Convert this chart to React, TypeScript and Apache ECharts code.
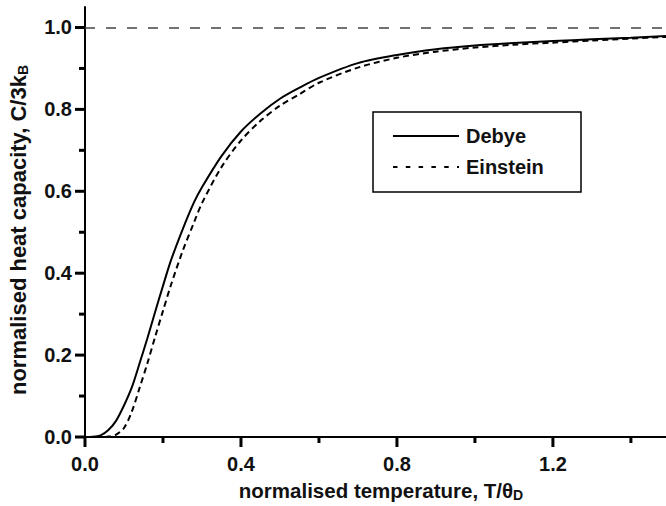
import React, { useEffect, useRef } from "react";
import * as echarts from "echarts";

// reduced temperature T/θD
const tValues = [0, 0.02, 0.04, 0.06, 0.08, 0.1, 0.12, 0.14, 0.16, 0.18, 0.2, 0.22, 0.25, 0.28, 0.3, 0.35, 0.4, 0.45, 0.5, 0.55, 0.6, 0.7, 0.8, 0.9, 1.0, 1.1, 1.2, 1.3, 1.4, 1.49];
// normalised heat capacity C/3kB
const debyeValues = [0, 0.0005, 0.004, 0.017, 0.04, 0.077, 0.121, 0.18, 0.241, 0.306, 0.369, 0.43, 0.506, 0.574, 0.61, 0.686, 0.746, 0.79, 0.826, 0.853, 0.877, 0.913, 0.933, 0.947, 0.956, 0.962, 0.967, 0.971, 0.975, 0.979];
const einsteinValues = [0, 0, 0, 0.001, 0.006, 0.022, 0.062, 0.12, 0.18, 0.245, 0.308, 0.37, 0.453, 0.525, 0.571, 0.659, 0.724, 0.772, 0.809, 0.837, 0.865, 0.902, 0.926, 0.941, 0.951, 0.958, 0.963, 0.968, 0.973, 0.977];

const xMajorTicks = [0, 0.4, 0.8, 1.2];
const xMinorTicks = [0.2, 0.6, 1.0, 1.4];
const yMajorTicks = [0, 0.2, 0.4, 0.6, 0.8, 1.0];
const yMinorTicks = [0.1, 0.3, 0.5, 0.7, 0.9];
const limitValue = 1.0;

const seriesNames = ["Debye", "Einstein"];

const FONT = "'Liberation Sans', Arial, Helvetica, sans-serif";

export default function App() {
  const ref = useRef<HTMLDivElement>(null);
  useEffect(() => {
    if (!ref.current) return;
    const chart = echarts.init(ref.current, null, { renderer: "svg" });
    const axisLineStyle = { color: "#000", width: 2 };
    const labelStyle = { color: "#111", fontSize: 20, fontWeight: "bold" as const, fontFamily: FONT };
    const subStyle = { fontSize: 14, fontWeight: "bold", fontFamily: FONT, color: "#111", padding: [10, 0, 0, 0] };
    const option: any = {
      animation: false,
      backgroundColor: "#fff",
      grid: { left: 85, right: 0, top: 7, bottom: 69, containLabel: false, outerBoundsMode: "none" },
      xAxis: {
        type: "value", min: 0, max: 1.49, position: "bottom",
        axisLine: { show: true, onZero: false, lineStyle: axisLineStyle },
        axisTick: { show: false },
        axisLabel: { ...labelStyle, margin: 17, customValues: xMajorTicks, formatter: (v: number) => v.toFixed(1) },
        splitLine: { show: false },
        name: "{gap| }normalised temperature, T/θ{sub|D}",
        nameLocation: "middle",
        nameGap: 41,
        nameTextStyle: {
          color: "#111", fontSize: 20.5, fontWeight: "bold", fontFamily: FONT,
          rich: { sub: subStyle, gap: { width: 11 } },
        },
      },
      yAxis: {
        type: "value", min: 0, max: 1.05, position: "left",
        axisLine: { show: true, onZero: false, lineStyle: axisLineStyle },
        axisTick: { show: false },
        axisLabel: { ...labelStyle, margin: 13, customValues: yMajorTicks, formatter: (v: number) => v.toFixed(1) },
        splitLine: { show: false },
        name: "normalised heat capacity, C/3k{sub|B}{gap| }",
        nameLocation: "middle",
        nameGap: 55,
        nameRotate: 90,
        nameTextStyle: {
          color: "#111", fontSize: 22, fontWeight: "bold", fontFamily: FONT,
          rich: { sub: subStyle, gap: { width: 16 } },
        },
      },
      series: [
        {
          name: seriesNames[0], type: "line",
          data: tValues.map((t, i) => [t, debyeValues[i]]),
          showSymbol: false, symbol: "none", smooth: 0.3,
          lineStyle: { color: "#000", width: 2, type: "solid" },
          markLine: {
            silent: true, symbol: "none", label: { show: false },
            lineStyle: { color: "#444", width: 1.5, type: [10, 11] },
            data: [{ yAxis: limitValue }],
          },
        },
        {
          name: seriesNames[1], type: "line",
          data: tValues.map((t, i) => [t, einsteinValues[i]]),
          showSymbol: false, symbol: "none", smooth: 0.3,
          lineStyle: { color: "#000", width: 2, type: [6, 4] },
        },
      ],
    };
    chart.setOption(option);

    // outward axis ticks, placed through the chart's own scales
    const ticks: any[] = [];
    const addX = (vals: number[], len: number) =>
      vals.forEach((v) => {
        const p = chart.convertToPixel({ gridIndex: 0 }, [v, 0]) as number[];
        ticks.push({ type: "rect", z: 50, zlevel: 1, shape: { x: p[0] - 1.5, y: p[1], width: 3, height: len }, style: { fill: "#000" } });
      });
    const addY = (vals: number[], len: number) =>
      vals.forEach((v) => {
        const p = chart.convertToPixel({ gridIndex: 0 }, [0, v]) as number[];
        ticks.push({ type: "rect", z: 50, zlevel: 1, shape: { x: p[0] - len, y: p[1] - 1.5, width: len, height: 3 }, style: { fill: "#000" } });
      });
    addX(xMajorTicks, 10);
    addX(xMinorTicks, 6);
    addY(yMajorTicks, 10);
    addY(yMinorTicks, 6);

    const legend = [
      { type: "rect", shape: { x: 373, y: 112, width: 208, height: 80 }, style: { fill: "#fff", stroke: "#000", lineWidth: 1.5 }, z: 10 },
      { type: "line", shape: { x1: 393, y1: 136, x2: 459, y2: 136 }, style: { stroke: "#000", lineWidth: 2 }, z: 11 },
      { type: "line", shape: { x1: 393, y1: 167, x2: 459, y2: 167 }, style: { stroke: "#000", lineWidth: 2, lineDash: [4.5, 8.3] }, z: 11 },
      { type: "text", x: 466, y: 136, style: { text: seriesNames[0], fill: "#111", fontSize: 20, fontWeight: "bold", fontFamily: FONT, verticalAlign: "middle" }, z: 11 },
      { type: "text", x: 466, y: 167, style: { text: seriesNames[1], fill: "#111", fontSize: 20, fontWeight: "bold", fontFamily: FONT, verticalAlign: "middle" }, z: 11 },
    ];
    chart.setOption({ graphic: [...ticks, ...legend] });
    return () => chart.dispose();
  }, []);
  return <div ref={ref} style={{ position: "fixed", left: 0, top: 0, width: 666, height: 506 }} />;
}
